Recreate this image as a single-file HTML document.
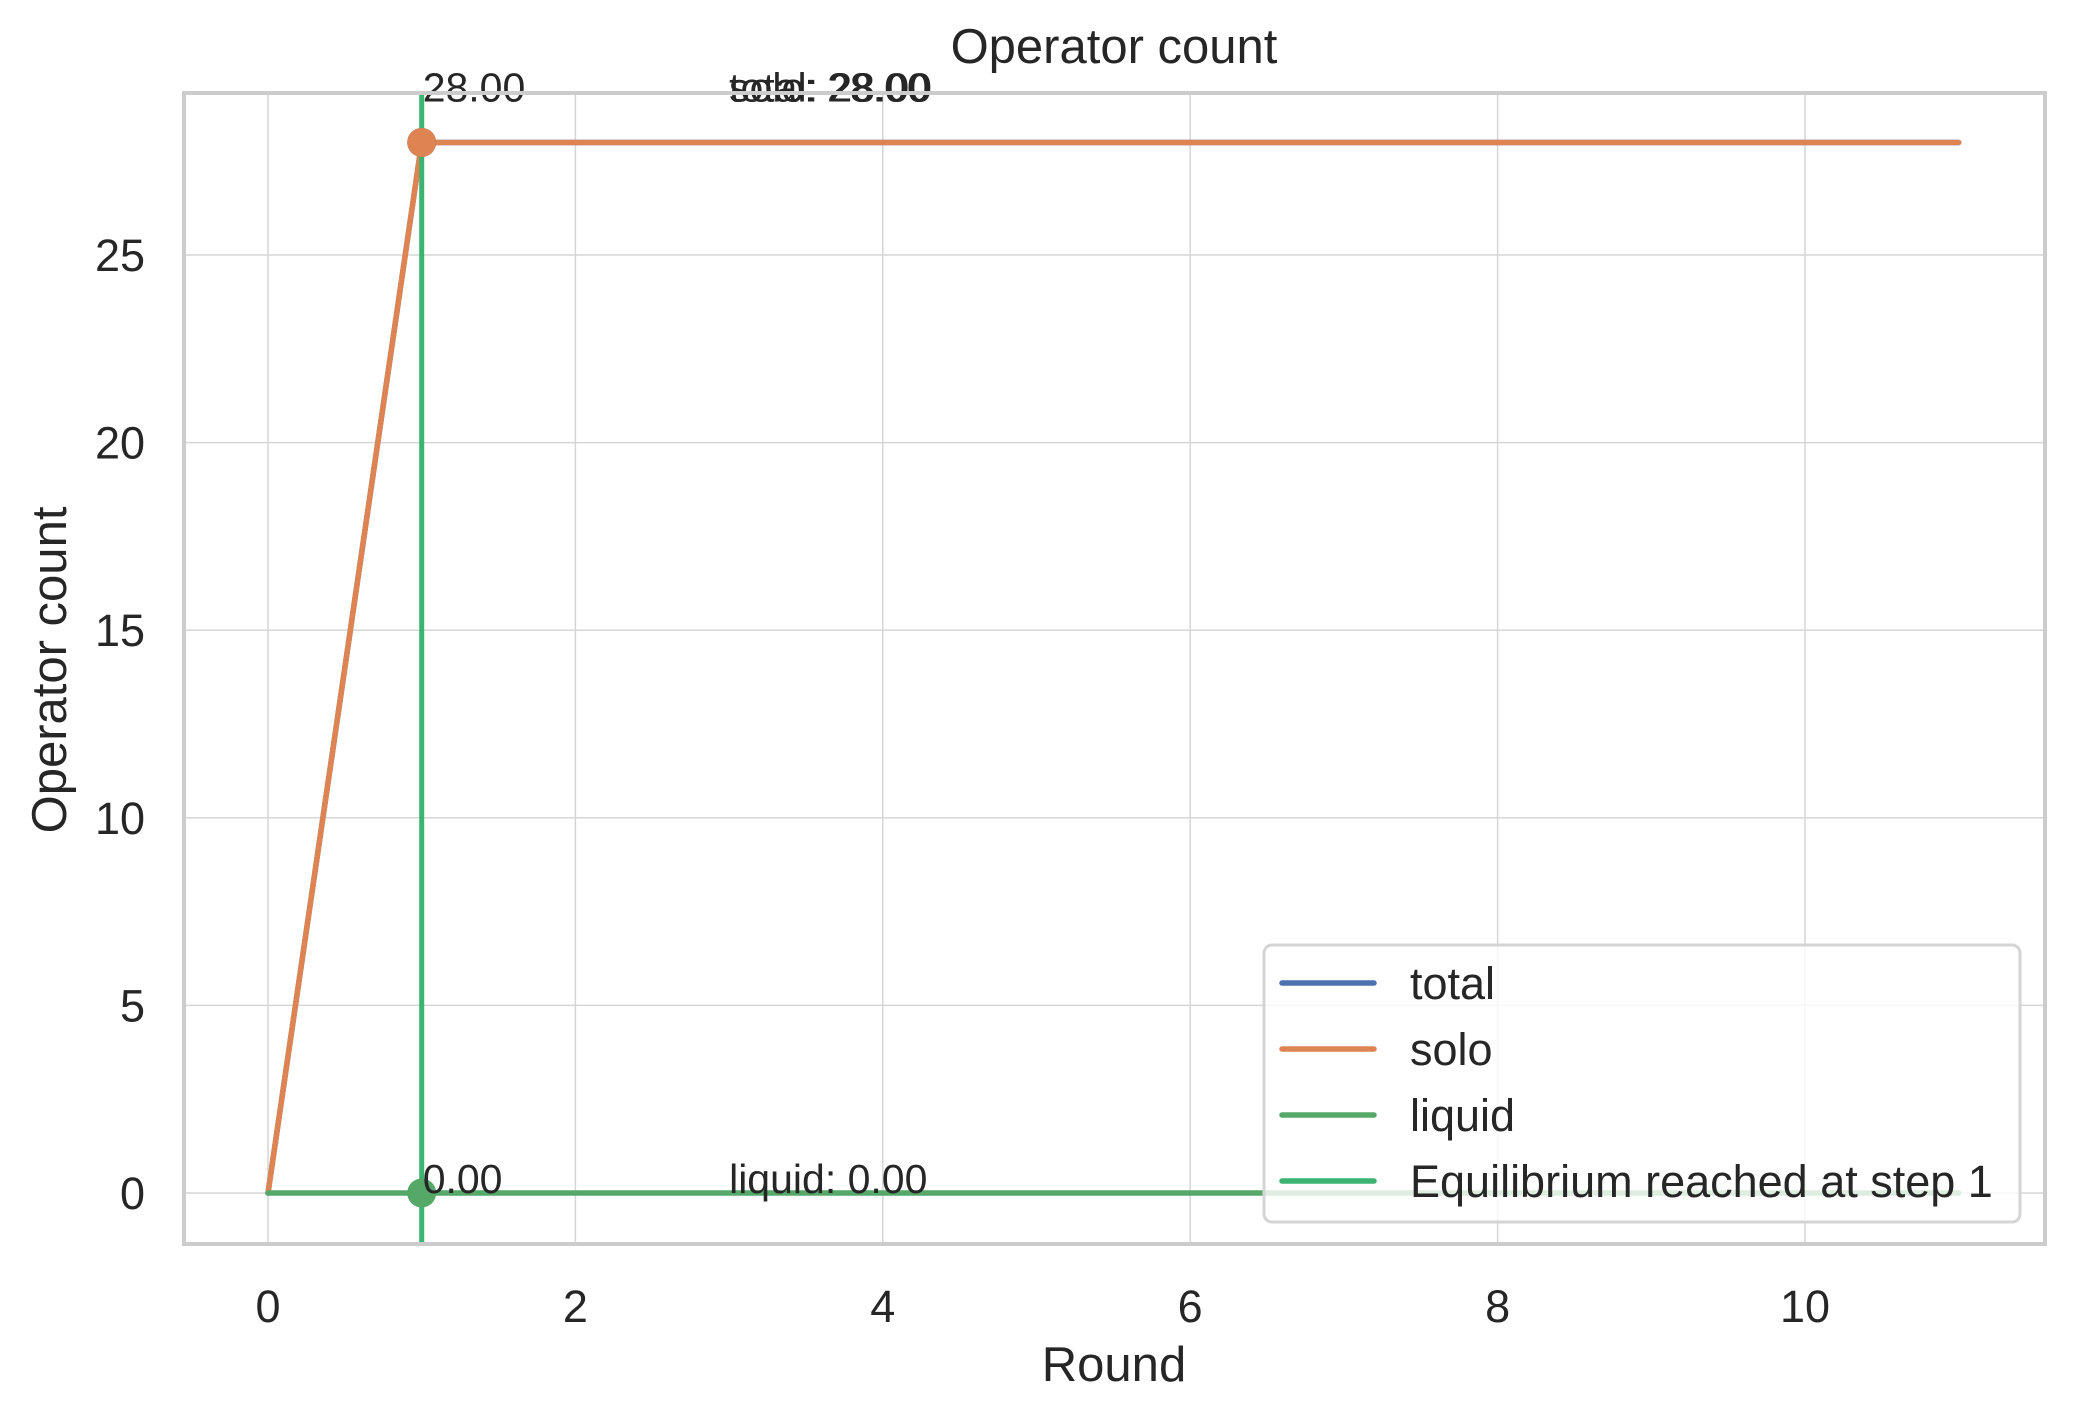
<!DOCTYPE html>
<html><head><meta charset="utf-8"><style>
html,body{margin:0;padding:0;background:#fff}
svg{display:block;font-family:"Liberation Sans",sans-serif;fill:#262626}
</style></head><body>
<svg id="c" width="2073" height="1421" xmlns="http://www.w3.org/2000/svg"></svg>
<script>
const rounds=[0,1,2,3,4,5,6,7,8,9,10,11];
const totalVals=[0,28,28,28,28,28,28,28,28,28,28,28];
const soloVals=[0,28,28,28,28,28,28,28,28,28,28,28];
const liquidVals=[0,0,0,0,0,0,0,0,0,0,0,0];
const xTicks=[0,2,4,6,8,10];
const yTicks=[0,5,10,15,20,25];
const eqStep=1;
const L=184,R=2045,T=93,B=1244;
const sx=v=>268+(v-0)*(1805-268)/10;
const sy=v=>1193-v*(1193-255)/25;
const NS="http://www.w3.org/2000/svg";
const svg=document.getElementById('c');
function mk(tag,attrs,parent){const e=document.createElementNS(NS,tag);for(const k in attrs)e.setAttribute(k,attrs[k]);(parent||svg).appendChild(e);return e;}
xTicks.forEach(t=>{const g=mk('line',{x1:sx(t),x2:sx(t),y1:T,y2:B,stroke:'#d6d6d6','stroke-width':1.5});


const tl=mk('text',{x:sx(t),y:1322,'font-size':45,'text-anchor':'middle'});tl.textContent=t;

});
yTicks.forEach(t=>{const g=mk('line',{x1:L,x2:R,y1:sy(t),y2:sy(t),stroke:'#d6d6d6','stroke-width':1.5});


const tl=mk('text',{x:145,y:sy(t)+16,'font-size':45,'text-anchor':'end'});tl.textContent=t;

});
function series(vals,color,name){const p=mk('polyline',{points:rounds.map((r,i)=>sx(r)+','+sy(vals[i])).join(' '),fill:'none',stroke:color,'stroke-width':5.5,'stroke-linejoin':'round','stroke-linecap':'round'});

}
series(totalVals,'#4c72b0','total-line');
series(soloVals,'#dd8452','solo-line');
series(liquidVals,'#55a868','liquid-line');
const vl=mk('line',{x1:sx(eqStep),x2:sx(eqStep),y1:T,y2:B,stroke:'#3cb371','stroke-width':5});


[[totalVals,'#4c72b0'],[soloVals,'#dd8452'],[liquidVals,'#55a868']].forEach(([v,c])=>{
const m=mk('ellipse',{cx:sx(eqStep),cy:sy(v[eqStep]),rx:14.5,ry:14.5,fill:c});

});
function ann(x,y,txt){const t=mk('text',{x:x,y:y,'font-size':41});t.textContent=txt;

}
ann(sx(eqStep)+1,sy(soloVals[eqStep])-41,soloVals[eqStep].toFixed(2));
ann(sx(eqStep)+1,sy(liquidVals[eqStep]),liquidVals[eqStep].toFixed(2));
ann(sx(3),sy(28)-41,'total: '+totalVals[eqStep].toFixed(2));
ann(sx(3),sy(28)-41,'solo: '+soloVals[eqStep].toFixed(2));
ann(sx(3),sy(0),'liquid: '+liquidVals[eqStep].toFixed(2));
const fr=mk('rect',{x:L,y:T,width:R-L,height:B-T,fill:'none',stroke:'#cccccc','stroke-width':4});


const lg=mk('g',{});


const lb=mk('rect',{x:1264,y:945,width:756,height:277,rx:8,fill:'rgba(255,255,255,0.8)',stroke:'#d4d4d4','stroke-width':3},lg);


[['total','#4c72b0'],['solo','#dd8452'],['liquid','#55a868'],['Equilibrium reached at step 1','#3cb371']].forEach((e,i)=>{
const y=983+i*66;
const ln=mk('line',{x1:1282,x2:1374,y1:y,y2:y,stroke:e[1],'stroke-width':5.5,'stroke-linecap':'round'},lg);


const tx=mk('text',{x:1410,y:y+16,'font-size':45},lg);tx.textContent=e[0];

});
const title=mk('text',{x:1114,y:63,'font-size':49,'text-anchor':'middle'});title.textContent='Operator count';


const xl=mk('text',{x:1114,y:1381,'font-size':49,'text-anchor':'middle'});xl.textContent='Round';


const yl=mk('text',{x:66,y:670,'font-size':49,'text-anchor':'middle',transform:'rotate(-90 66 670)'});yl.textContent='Operator count';


</script>
</body></html>
